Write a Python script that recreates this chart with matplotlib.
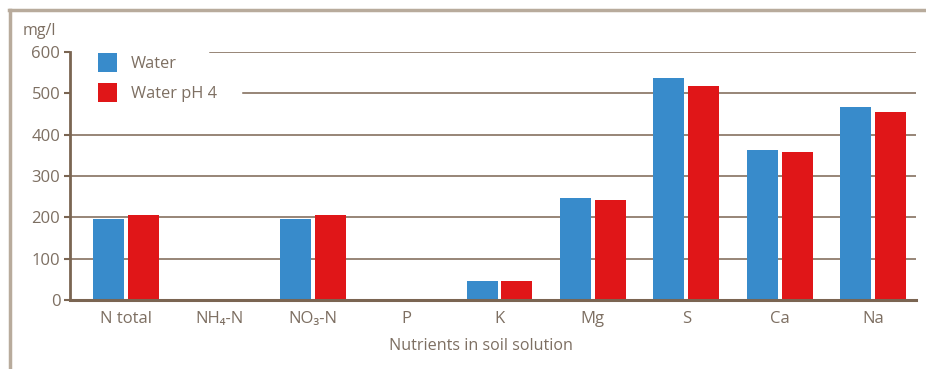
import matplotlib
matplotlib.use('Agg')
import matplotlib.pyplot as plt
import numpy as np
from matplotlib.lines import Line2D

# data
categories = ['N total', 'NH\u2084-N', 'NO\u2083-N', 'P', 'K', 'Mg', 'S', 'Ca', 'Na']
water = [195, 0, 195, 0, 46, 247, 537, 363, 467]
water_ph4 = [205, 0, 205, 0, 46, 242, 518, 358, 455]
yticks = [0, 100, 200, 300, 400, 500, 600]

brown = '#7a6552'
textc = '#7d6f62'
blue = '#388bcb'
red = '#e01618'

plt.rcParams['font.family'] = ['Open Sans', 'DejaVu Sans']

fig = plt.figure(figsize=(9.26, 3.69), dpi=100)
ax = fig.add_axes([70/926, 69/369, 846/926, 248/369])

x = np.arange(len(categories))
w = 0.332
ax.bar(x - 0.187, water, w, color=blue, label='Water', zorder=3)
ax.bar(x + 0.187, water_ph4, w, color=red, label='Water pH 4', zorder=3)

ax.set_xlim(-0.6, 8.46)
ax.set_ylim(0, 600)

# gridlines, the top two are cut where the legend sits
grid_start = {600: 0.166, 500: 0.204}
for v in yticks[1:]:
    ax.axhline(v, xmin=grid_start.get(v, 0), xmax=1, color=brown, lw=1.1, zorder=1)

for s in ['top', 'right']:
    ax.spines[s].set_visible(False)
ax.spines['left'].set_color(brown)
ax.spines['left'].set_linewidth(2)
ax.spines['bottom'].set_color(brown)
ax.spines['bottom'].set_linewidth(2.2)
ax.spines['bottom'].set_zorder(4)

ax.set_yticks(yticks)
ax.set_xticks(x)
ax.set_xticklabels(categories)
ax.tick_params(axis='y', length=4, width=1.5, color=brown, labelcolor=textc, labelsize=12, pad=3)
ax.tick_params(axis='x', length=0, labelcolor=textc, labelsize=12, pad=8)

fig.text(481/926, (369-346)/369, 'Nutrients in soil solution', color=textc, fontsize=11.6,
         ha='center', va='center')
fig.text(39/926, (369-31)/369, 'mg/l', color=textc, fontsize=11.5, ha='center', va='center')

leg = ax.legend(loc='upper left', bbox_to_anchor=(28/846, 0.995), frameon=False,
                fontsize=11.8, handlelength=1.15, handleheight=1.35, handletextpad=0.85,
                labelspacing=0.7, borderpad=0, borderaxespad=0)
for t in leg.get_texts():
    t.set_color(textc)

# outer frame
fig.add_artist(Line2D([10/926, 10/926], [0, (369-10)/369], color='#b8ab9c', lw=2.5))
fig.add_artist(Line2D([9/926, 1], [(369-10)/369, (369-10)/369], color='#b8ab9c', lw=2.5))

fig.savefig('out.png', dpi=100)
